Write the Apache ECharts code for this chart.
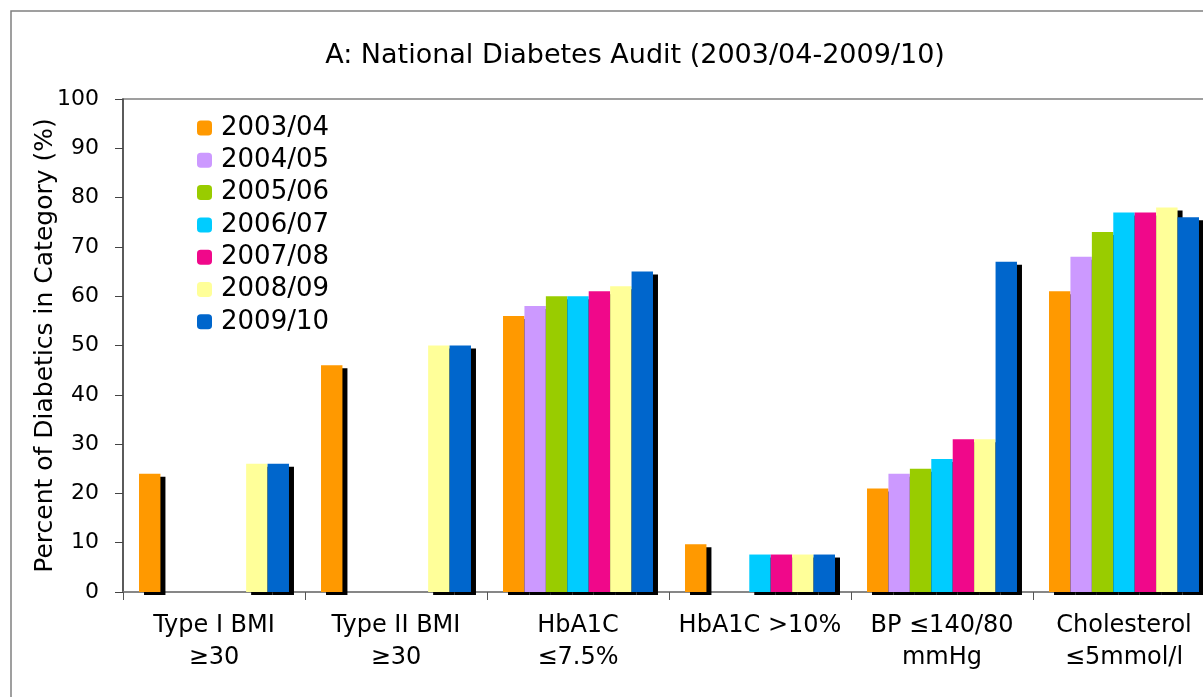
<!DOCTYPE html>
<html lang="en">
<head>
    <meta charset="UTF-8">
    <title>National Diabetes Audit</title>
    <style>
        html, body { margin: 0; padding: 0; background: #fff; overflow: hidden; }
        #chart-box { width: 1215px; height: 697px; }
    </style>
</head>
<body>
<div id="chart-box"></div>
<script src="https://cdn.jsdelivr.net/npm/echarts@6/dist/echarts.min.js"></script>
<script>
    // categories and yearly values (null = no bar)
    var categories = ['Type I BMI\n≥30', 'Type II BMI\n≥30', 'HbA1C\n≤7.5%', 'HbA1C >10%', 'BP ≤140/80\nmmHg', 'Cholesterol\n≤5mmol/l'];
    var years = ['2003/04', '2004/05', '2005/06', '2006/07', '2007/08', '2008/09', '2009/10'];
    var colors = ['#FF9900', '#CC99FF', '#99CC00', '#00CCFF', '#F0088A', '#FFFF99', '#0066CC'];

    var y2003 = [24, 46, 56, 9.7, 21, 61];
    var y2004 = [null, null, 58, null, 24, 68];
    var y2005 = [null, null, 60, null, 25, 73];
    var y2006 = [null, null, 60, 7.6, 27, 77];
    var y2007 = [null, null, 61, 7.6, 31, 77];
    var y2008 = [26, 50, 62, 7.6, 31, 78];
    var y2009 = [26, 50, 65, 7.6, 67, 76];
    var values = [y2003, y2004, y2005, y2006, y2007, y2008, y2009];

    var yTicks = [0, 10, 20, 30, 40, 50, 60, 70, 80, 90, 100];

    var font = 'DejaVu Sans';
    var myChart = echarts.init(document.getElementById('chart-box'));

    var series = years.map(function (y, i) {
        return {
            name: y,
            type: 'bar',
            data: values[i],
            barGap: '0%',
            barCategoryGap: '17.6%',
            itemStyle: {
                color: colors[i],
                shadowColor: '#000',
                shadowBlur: 0,
                shadowOffsetX: 5,
                shadowOffsetY: 3
            },
            emphasis: { disabled: true }
        };
    });

    var option = {
        animation: false,
        title: {
            text: 'A: National Diabetes Audit (2003/04-2009/10)',
            left: 630,
            textAlign: 'center',
            top: 37,
            textStyle: { fontFamily: font, fontSize: 27, fontWeight: 'normal', color: '#000' }
        },
        graphic: [{
            type: 'rect',
            shape: { x: 11, y: 11, width: 1400, height: 1000 },
            style: { fill: 'none', stroke: '#808080', lineWidth: 1.5 },
            silent: true
        }],
        legend: {
            orient: 'vertical',
            left: 192,
            top: 110,
            itemWidth: 15,
            itemHeight: 15,
            itemGap: 6.3,
            data: years,
            textStyle: { fontFamily: font, fontSize: 26, lineHeight: 26, color: '#000', padding: [0, 0, 0, 4] }
        },
        grid: {
            left: 123,
            top: 99,
            right: 0,
            bottom: 105,
            show: true,
            borderColor: '#808080',
            borderWidth: 1.5,
            containLabel: false
        },
        xAxis: {
            type: 'category',
            data: categories,
            axisLine: { lineStyle: { color: '#808080', width: 1.5 } },
            axisTick: { show: true, length: 8, lineStyle: { color: '#555' } },
            axisLabel: {
                interval: 0,
                margin: 18,
                fontFamily: font,
                fontSize: 24,
                lineHeight: 32,
                color: '#000'
            }
        },
        yAxis: {
            type: 'value',
            min: yTicks[0],
            max: yTicks[yTicks.length - 1],
            interval: 10,
            name: 'Percent of Diabetics in Category (%)',
            nameLocation: 'middle',
            nameGap: 65,
            nameMoveOverlap: false,
            nameTextStyle: { fontFamily: font, fontSize: 25, color: '#000' },
            axisLine: { show: true, lineStyle: { color: '#444', width: 1.5 } },
            axisTick: { show: true, length: 8, lineStyle: { color: '#444' } },
            splitLine: { show: false },
            axisLabel: { margin: 24, fontFamily: font, fontSize: 22, color: '#000' }
        },
        series: series
    };

    myChart.setOption(option);
</script>
</body>
</html>
